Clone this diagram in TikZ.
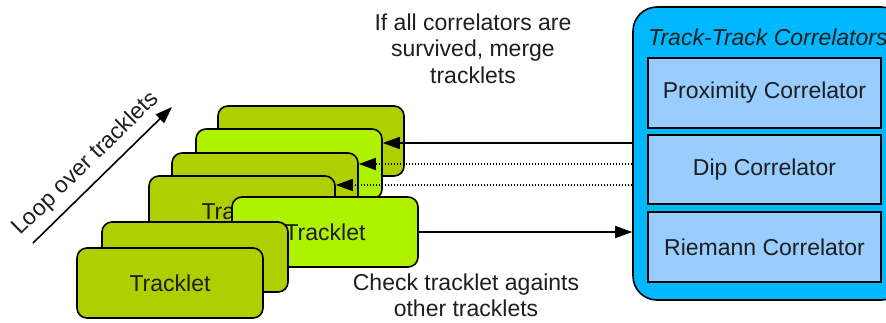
\documentclass[tikz,border=0pt]{standalone}
\usepackage{fontspec}
\setmainfont{Liberation Sans}
\usetikzlibrary{arrows.meta,calc}

\definecolor{trkdark}{RGB}{174,207,0}
\definecolor{trklight}{RGB}{174,242,0}
\definecolor{panelblue}{RGB}{0,184,255}
\definecolor{corrblue}{RGB}{153,204,255}
\definecolor{txt}{RGB}{30,30,30}

\begin{document}
\begin{tikzpicture}[x=1pt,y=-1pt,
  font=\fontsize{23}{26.5}\selectfont, text=txt,
  trk/.style={draw=black, line width=1.6pt, rounded corners=10pt,
    minimum width=186pt, minimum height=70pt, inner sep=0pt},
  trkdk/.style={trk, fill=trkdark},
  trklt/.style={trk, fill=trklight},
  panel/.style={draw=black, line width=1.6pt, fill=panelblue,
    rounded corners=24pt, minimum width=272pt, minimum height=293pt, inner sep=0pt},
  corr/.style={draw=black, line width=1.6pt, fill=corrblue,
    minimum width=233pt, minimum height=70pt, inner sep=0pt},
  arr/.style={line width=1.4pt, -{Triangle[length=17pt,width=12pt]}},
  dotarr/.style={arr, dash pattern=on 1.4pt off 1.6pt},
  lbl/.style={align=center, inner sep=0pt}
]
\useasboundingbox (0,0) rectangle (886,322);
\clip (0,0) rectangle (886,322);

% correlator panel
\node[panel] (panel) at (769,153.5) {};
\node[anchor=base west, inner sep=0pt, font=\fontsize{23}{26.5}\selectfont\itshape]
  (ptitle) at (648,45) {Track-Track Correlators};
\node[corr] (prox) at (764.5,93) {Proximity Correlator};
\node[corr, minimum height=69pt] (dip) at (764.5,169.5) {Dip Correlator};
\node[corr] (riem) at (764.5,247) {Riemann Correlator};

% stack of tracklets, back to front
\node[trkdk] (tA) at (311,141) {Tracklet};
\node[trklt] (tB) at (289,164) {Tracklet};
\node[trkdk] (tC) at (265,188) {Tracklet};
\node[trkdk] (tD) at (242,211) {Tracklet};
\node[trklt] (tE) at (325,232) {Tracklet};
\node[trkdk] (tF) at (195,257) {Tracklet};
\node[trkdk] (tG) at (170,283) {Tracklet};

% feedback from the correlators
\coordinate (f1) at (0,143);
\coordinate (f2) at (0,164);
\coordinate (f3) at (0,185);
\draw[arr] (panel.west |- f1) -- (tB.east |- f1);
\draw[dotarr] (panel.west |- f2) -- (tC.east |- f2);
\draw[dotarr] (panel.west |- f3) -- (tD.east |- f3);
\draw[arr] (tE.east) -- (tE.east -| panel.west);

% labels
\node[lbl] (merge) at (473,48.5) {If all correlators are\\survived, merge\\tracklets};
\node[lbl] (check) at (466,295.5) {Check tracklet againts\\other tracklets};

% loop direction
\coordinate (l0) at (33,243);
\coordinate (l1) at (172,107);
\draw[arr, line width=1.6pt] (l0) -- node[sloped, above, pos=0.48, inner sep=8pt] (loop) {Loop over tracklets} (l1);
\end{tikzpicture}
\end{document}
